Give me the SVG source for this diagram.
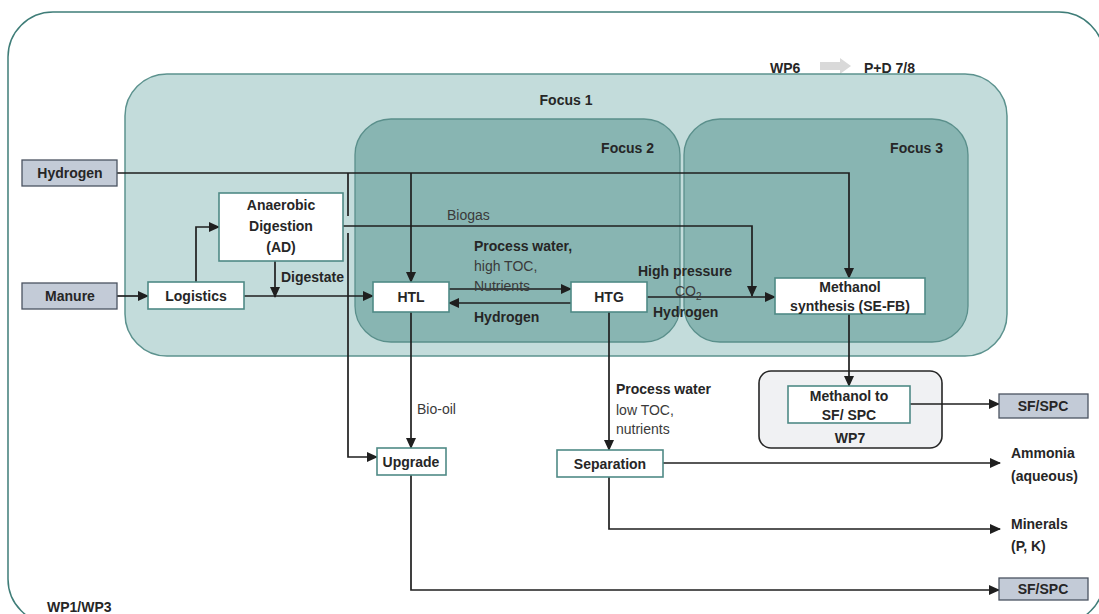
<svg xmlns="http://www.w3.org/2000/svg" width="1099" height="614" viewBox="0 0 1099 614">
<defs>
<marker id="ah" markerWidth="11" markerHeight="10" refX="10" refY="5" orient="auto" markerUnits="userSpaceOnUse">
<path d="M0,0 L11,5 L0,10 z" fill="#1f1f1f"/>
</marker>
<style>
text{font-family:"Liberation Sans",Arial,sans-serif;font-size:14px;fill:#262626}
.b{font-weight:bold}
.r{fill:#3a3a3a}
.c{text-anchor:middle}
.e{text-anchor:end}
.inp{fill:#c3cbd7;stroke:#4b5361;stroke-width:1.3}
.box{fill:#ffffff;stroke:#4f8a86;stroke-width:1.6}
.ln{fill:none;stroke:#1f1f1f;stroke-width:1.7}
.la{fill:none;stroke:#1f1f1f;stroke-width:1.7;marker-end:url(#ah)}
</style>
</defs>
<rect x="0" y="0" width="1099" height="614" fill="#ffffff"/>
<g id="frame">
<rect x="8" y="12" width="1096" height="612" rx="45" ry="45" fill="#ffffff" stroke="#3f7d78" stroke-width="1.5"/>
<text x="47" y="612" class="b">WP1/WP3</text>
</g>
<g id="wp6">
<text x="770" y="73" class="b">WP6</text>
<polygon points="820,62 840,62 840,58 851,66 840,74 840,70 820,70" fill="#d9d9d9"/>
<text x="864" y="73" class="b">P+D 7/8</text>
</g>
<g id="focus1">
<rect x="125" y="74" width="882" height="282" rx="42" ry="42" fill="#c3dcdb" stroke="#5c928e" stroke-width="1.5"/>
<text x="566" y="105" class="b c">Focus 1</text>
</g>
<g id="focus2">
<rect x="355" y="119" width="325" height="223" rx="36" ry="36" fill="#88b5b2" stroke="#5a8f8b" stroke-width="1.3"/>
<text x="654" y="153" class="b e">Focus 2</text>
</g>
<g id="focus3">
<rect x="684" y="119" width="284" height="223" rx="36" ry="36" fill="#88b5b2" stroke="#5a8f8b" stroke-width="1.3"/>
<text x="943" y="153" class="b e">Focus 3</text>
</g>
<g id="wp7">
<rect x="759" y="371" width="183" height="77" rx="12" ry="12" fill="#f0f1f3" stroke="#262626" stroke-width="1.6"/>
<text x="850" y="443" class="b c">WP7</text>
</g>
<g id="connectors">
<!-- Hydrogen main line to methanol synthesis -->
<polyline class="la" points="117,173 849,173 849,278"/>
<!-- Hydrogen branch to HTL -->
<line class="la" x1="411" y1="173" x2="411" y2="282"/>
<!-- Hydrogen branch to Upgrade (with jump gap at biogas) -->
<line class="ln" x1="348" y1="173" x2="348" y2="216"/>
<polyline class="la" points="348,233 348,457 377,457"/>
<!-- Biogas -->
<polyline class="la" points="343,226 752,226 752,296"/>
<!-- Manure to Logistics -->
<line class="la" x1="117" y1="296" x2="148" y2="296"/>
<!-- Logistics to AD -->
<polyline class="la" points="196,282 196,227 219,227"/>
<!-- Logistics to HTL -->
<line class="la" x1="244" y1="296" x2="373" y2="296"/>
<!-- Digestate -->
<line class="la" x1="275" y1="261" x2="275" y2="297"/>
<!-- HTL to HTG -->
<line class="la" x1="449" y1="289" x2="571" y2="289"/>
<!-- HTG to HTL -->
<line class="la" x1="571" y1="303" x2="449" y2="303"/>
<!-- HTG to Methanol synthesis -->
<line class="la" x1="647" y1="297" x2="775" y2="297"/>
<!-- Methanol synthesis to Methanol to SF -->
<line class="la" x1="849" y1="314" x2="849" y2="386"/>
<!-- Methanol to SF to SF/SPC -->
<line class="la" x1="910" y1="404" x2="999" y2="404"/>
<!-- HTL to Upgrade -->
<line class="la" x1="411" y1="312" x2="411" y2="448"/>
<!-- HTG to Separation -->
<line class="la" x1="609" y1="312" x2="609" y2="450"/>
<!-- Separation to Ammonia -->
<line class="la" x1="663" y1="463" x2="1000" y2="463"/>
<!-- Separation to Minerals -->
<polyline class="la" points="609,477 609,529 1000,529"/>
<!-- Upgrade to SF/SPC -->
<polyline class="la" points="411,475 411,590 999,590"/>
</g>
<g id="labels">
<text x="447" y="220" class="r">Biogas</text>
<text x="281" y="282" class="b">Digestate</text>
<text x="474" y="251" class="b">Process water,</text>
<text x="474" y="271" class="r">high TOC,</text>
<text x="474" y="291" class="r">Nutrients</text>
<text x="474" y="322" class="b">Hydrogen</text>
<text x="638" y="276" class="b">High pressure</text>
<text x="675" y="296" class="r">CO<tspan font-size="10" dy="4">2</tspan></text>
<text x="653" y="317" class="b">Hydrogen</text>
<text x="417" y="414" class="r">Bio-oil</text>
<text x="616" y="394" class="b">Process water</text>
<text x="616" y="415" class="r">low TOC,</text>
<text x="616" y="434" class="r">nutrients</text>
<text x="1011" y="458" class="b">Ammonia</text>
<text x="1011" y="481" class="b">(aqueous)</text>
<text x="1011" y="529" class="b">Minerals</text>
<text x="1011" y="551" class="b">(P, K)</text>
</g>
<g id="hydrogen">
<rect class="inp" x="22" y="160" width="95" height="26"/>
<text x="70" y="178" class="b c">Hydrogen</text>
</g>
<g id="manure">
<rect class="inp" x="22" y="283" width="95" height="26"/>
<text x="70" y="301" class="b c">Manure</text>
</g>
<g id="logistics">
<rect class="box" x="148" y="282" width="96" height="27"/>
<text x="196" y="301" class="b c">Logistics</text>
</g>
<g id="ad">
<rect class="box" x="219" y="193" width="124" height="68"/>
<text x="281" y="210" class="b c">Anaerobic</text>
<text x="281" y="231" class="b c">Digestion</text>
<text x="281" y="252" class="b c">(AD)</text>
</g>
<g id="htl">
<rect class="box" x="373" y="282" width="76" height="30"/>
<text x="411" y="302" class="b c">HTL</text>
</g>
<g id="htg">
<rect class="box" x="571" y="282" width="76" height="30"/>
<text x="609" y="302" class="b c">HTG</text>
</g>
<g id="methanol-synthesis">
<rect class="box" x="775" y="278" width="150" height="36"/>
<text x="850" y="292" class="b c">Methanol</text>
<text x="850" y="311" class="b c">synthesis (SE-FB)</text>
</g>
<g id="methanol-to-sf">
<rect class="box" x="788" y="386" width="122" height="37"/>
<text x="849" y="401" class="b c">Methanol to</text>
<text x="849" y="420" class="b c">SF/ SPC</text>
</g>
<g id="sfspc-top">
<rect class="inp" x="999" y="394" width="89" height="24"/>
<text x="1043" y="411" class="b c">SF/SPC</text>
</g>
<g id="upgrade">
<rect class="box" x="377" y="448" width="69" height="27"/>
<text x="411" y="467" class="b c">Upgrade</text>
</g>
<g id="separation">
<rect class="box" x="557" y="450" width="106" height="27"/>
<text x="610" y="469" class="b c">Separation</text>
</g>
<g id="sfspc-bottom">
<rect class="inp" x="999" y="578" width="89" height="22"/>
<text x="1043" y="594" class="b c">SF/SPC</text>
</g>
</svg>
